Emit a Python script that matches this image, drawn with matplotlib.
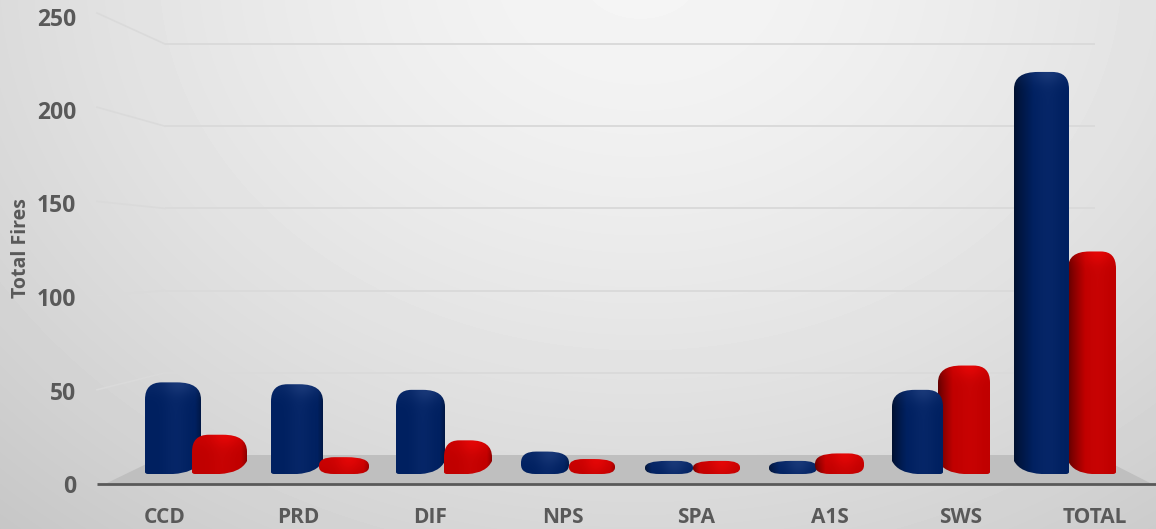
import numpy as np
import matplotlib
matplotlib.use("Agg")
import matplotlib.pyplot as plt
from matplotlib.patches import Polygon, PathPatch
from matplotlib.path import Path

categories = ["CCD", "PRD", "DIF", "NPS", "SPA", "A1S", "SWS", "TOTAL"]
blue_values = [49, 48, 45, 12, 7, 7, 45, 215]
red_values = [21, 9, 18, 8, 7, 11, 58, 119]
y_ticks = [0, 50, 100, 150, 200, 250]

W, H = 1156, 529
PX_PER_UNIT = 1.87
FRONT_ZERO = 484
BAR_ZERO = 474
BACK_ZERO = 455
BACK_STEP = 82.2 / 50
GROUP_X0, GROUP_DX = 196, 124
LABEL_X = [165, 298, 430, 563, 696, 830, 961, 1095]
BLUE_EDGES = [(145, 201), (271, 323), (396, 445), (521, 569), (645, 693), (769, 817), (892, 943), (1014, 1069)]
RED_EDGES = [(192, 247), (319, 369), (444, 492), (569, 615), (693, 740), (815, 864), (938, 990), (1068, 1116)]
TXT = "#595959"
FONT = ["Open Sans", "DejaVu Sans"]

fig = plt.figure(figsize=(W / 100, H / 100), dpi=100)


def full_axes(name, z):
    a = fig.add_axes([0, 0, 1, 1], label=name, zorder=z)
    a.patch.set_alpha(0)
    a.set_axis_off()
    return a


deco = full_axes("deco", 0)
yy, xx = np.mgrid[0:H, 0:W]
r = np.sqrt(((xx - 640) / 760.0) ** 2 + ((yy + 30) / 600.0) ** 2)
shade = np.clip(0.96 - 0.13 * r ** 1.5, 0.76, 0.96)
deco.imshow(shade, cmap="gray", vmin=0, vmax=1, extent=(0, W, H, 0), aspect="auto", zorder=0)
deco.set_xlim(0, W)
deco.set_ylim(H, 0)
deco.add_patch(Polygon([(105, FRONT_ZERO), (165, BACK_ZERO), (1095, BACK_ZERO), (1152, FRONT_ZERO)],
                       closed=True, fc="#bfbfbf", ec="none", zorder=1))
for t in y_ticks[1:]:
    yb = BACK_ZERO - t * BACK_STEP
    yf = FRONT_ZERO - t * 94.2 / 50
    deco.plot([165, 1095], [yb, yb], color="#dadada", lw=1.4, zorder=2, solid_capstyle="butt")
    deco.plot([97, 165], [yf, yb], color="#dadada", lw=1.2, zorder=2)
deco.plot([97, W], [FRONT_ZERO, FRONT_ZERO], color="#595959", lw=2.0, zorder=3, solid_capstyle="butt")

bars = full_axes("bars", 2)


def bar_shape(left, right, top, side):
    h = BAR_ZERO - top
    w = right - left
    ry = min(17, h * 0.5)
    rxo = min(24, w * 0.45)
    rxi = rxo * 0.7
    rl, rr = (rxo, rxi) if side > 0 else (rxi, rxo)
    if h < 30:
        # squat columns read as rounded lozenges, both ends lifted
        yl = yr = BAR_ZERO - h * 0.42
        cl, cr = (left, BAR_ZERO), (right, BAR_ZERO)
        bl, br = left + w * 0.3, right - w * 0.3
    else:
        rise = min(13, h * 0.45)
        low = min(2, h * 0.1)
        if side > 0:
            yl, yr = BAR_ZERO - rise, BAR_ZERO - low
            cl, cr = (left + w * 0.12, BAR_ZERO - 1), (right, BAR_ZERO)
            bl, br = left + w * 0.5, right - 3
        else:
            yl, yr = BAR_ZERO - low, BAR_ZERO - rise
            cl, cr = (left, BAR_ZERO), (right - w * 0.12, BAR_ZERO - 1)
            bl, br = left + 3, right - w * 0.5
    verts = [
        (left, yl),
        (left, top + ry), (left, top), (left + rl, top),
        (right - rr, top),
        (right, top), (right, top + ry),
        (right, yr),
        cr, (br, BAR_ZERO),
        (bl, BAR_ZERO),
        cl, (left, yl),
        (left, yl),
    ]
    codes = [Path.MOVETO, Path.LINETO, Path.CURVE3, Path.CURVE3, Path.LINETO,
             Path.CURVE3, Path.CURVE3, Path.LINETO, Path.CURVE3, Path.CURVE3,
             Path.LINETO, Path.CURVE3, Path.CURVE3, Path.CLOSEPOLY]
    return verts, codes


def draw_bar(i, value, edges, dark, main, light, bright, z):
    left, right = edges
    top = BAR_ZERO - value * PX_PER_UNIT
    u = (i - 3.5) / 3.5
    side = 1 if u > 0 else -1
    n = max(int(right - left), 2)
    m = max(int(BAR_ZERO - top), 2)
    t = np.linspace(0, 1, n)
    edge_t = t if side > 0 else 1 - t
    span = 0.10 + 0.26 * max(u, 0) if side > 0 else 0.10
    k = np.clip(edge_t / span, 0, 1)[None, :, None] ** 0.8
    strength = 1.0 if side > 0 else 0.55
    dark, main, light, bright = [np.array(matplotlib.colors.to_rgb(c))[None, None, :] for c in (dark, main, light, bright)]
    img = main + (dark - main) * (1 - k) * strength
    img = np.repeat(img, m, axis=0)
    sheen = np.exp(-((t - (0.62 if side > 0 else 0.55)) / 0.22) ** 2)[None, :, None]
    img = img + (light - main) * sheen * 0.6
    d = np.arange(m)[:, None, None]
    cap = np.exp(-(d / 12.0) ** 2) * (0.3 + 0.7 * np.exp(-((t - 0.62) / 0.25) ** 2))[None, :, None]
    img = img * (1 - cap * 0.7) + bright * cap * 0.7
    img = np.clip(img, 0, 1)
    to_x = lambda p: (p - GROUP_X0) / GROUP_DX
    to_y = lambda p: (BAR_ZERO - p) / PX_PER_UNIT
    verts, codes = bar_shape(left, right, top, side)
    path = Path([(to_x(a), to_y(b)) for a, b in verts], codes)
    im = bars.imshow(img, extent=(to_x(left), to_x(right), 0, value), aspect="auto",
                     interpolation="bilinear", zorder=z)
    clip = PathPatch(path, transform=bars.transData, fc="none", ec="none")
    bars.add_patch(clip)
    im.set_clip_path(clip)


for i, (b, rv) in enumerate(zip(blue_values, red_values)):
    blue_z, red_z = (4, 3) if i >= 6 else (3, 4)
    draw_bar(i, b, BLUE_EDGES[i], "#00102f", "#002060", "#0a2a6c", "#21407f", blue_z)
    draw_bar(i, rv, RED_EDGES[i], "#600000", "#c00000", "#cc0505", "#f00808", red_z)
bars.set_xlim((0 - GROUP_X0) / GROUP_DX, (W - GROUP_X0) / GROUP_DX)
bars.set_ylim((BAR_ZERO - H) / PX_PER_UNIT, BAR_ZERO / PX_PER_UNIT)

ax = fig.add_axes([0, 0, 1, 1], label="labels", zorder=5)
ax.patch.set_alpha(0)
ax.set_xlim(0, W)
ax.set_ylim((FRONT_ZERO - H) / PX_PER_UNIT, FRONT_ZERO / PX_PER_UNIT)
for s in ax.spines.values():
    s.set_visible(False)
ax.set_yticks(y_ticks)
ax.set_yticklabels([str(t) for t in y_ticks], family=FONT, fontweight="bold", fontsize=16.5, color=TXT)
ax.tick_params(axis="y", direction="in", pad=-55, length=0)
ax.set_xticks(LABEL_X)
ax.set_xticklabels(categories, family=FONT, fontweight="bold", fontsize=15, color=TXT)
ax.tick_params(axis="x", direction="in", pad=-16, length=0)
ax.text(21, 126, "Total Fires", rotation=90, ha="center", va="center",
        family=FONT, fontweight="bold", fontsize=14, color=TXT)

fig.savefig("out.png", dpi=100)
